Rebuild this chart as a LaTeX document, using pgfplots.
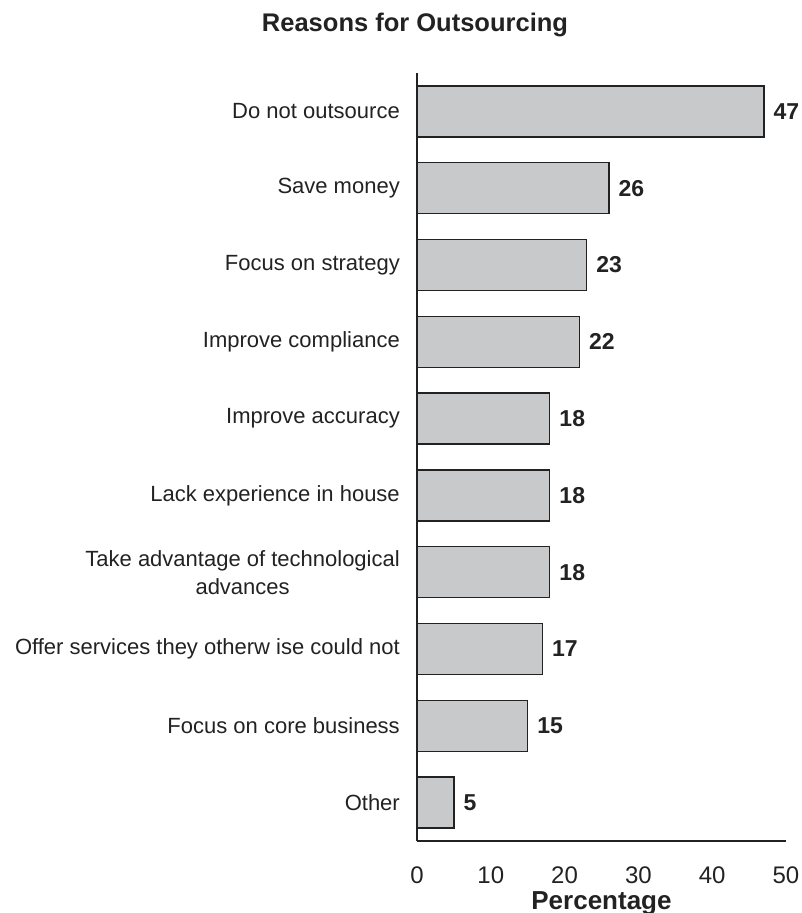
\documentclass[border=0pt]{standalone}
\usepackage{fontspec}
\setmainfont{Liberation Sans}
\usepackage{pgfplots}
\pgfplotsset{compat=1.18}
\definecolor{barfill}{RGB}{200,201,203}
\definecolor{edge}{RGB}{34,34,34}
\begin{document}
\begin{tikzpicture}
\path[use as bounding box] (-417pt,-72pt) rectangle (384pt,841pt);
\begin{axis}[
  at={(0pt,0pt)}, anchor=south west,
  scale only axis,
  width=369pt, height=768pt,
  xmin=0, xmax=50, ymin=-0.5, ymax=9.5,
  y dir=reverse,
  xbar, bar width=51pt,
  axis lines=left,
  axis line style={-, edge, line width=1.3pt},
  major tick length=0pt,
  xtick={0,10,20,30,40,50},
  ytick={0,1,2,3,4,5,6,7,8,9},
  yticklabels={Do not outsource, Save money, Focus on strategy, Improve compliance, Improve accuracy, Lack experience in house, {Take advantage of technological\\advances}, Offer services they otherw ise could not, Focus on core business, Other},
  /pgf/number format/assume math mode=true,
  xticklabel style={font=\fontsize{24}{28}\selectfont, anchor=center, yshift=-34pt, text=edge},
  yticklabel style={font=\fontsize{22}{28}\selectfont, align=center, anchor=east, inner sep=0pt, xshift=-17pt, text=edge},
  xlabel={Percentage},
  xlabel style={font=\fontsize{26}{30}\selectfont\bfseries, at={(axis description cs:0.5,0)}, anchor=center, inner sep=0pt, yshift=-62pt, text=edge},
  nodes near coords,
  every node near coord/.append style={font=\fontsize{23}{26}\selectfont\bfseries, anchor=west, inner sep=0pt, xshift=9pt, text=edge},
  clip=false,
]
\addplot[fill=barfill, draw=edge, line width=1.3pt] coordinates {
(47,0) (26,1) (23,2) (22,3) (18,4) (18,5) (18,6) (17,7) (15,8) (5,9)
};
\end{axis}
\node[font=\fontsize{25.5}{30}\selectfont\bfseries, text=edge] at (-2pt,816pt) {Reasons for Outsourcing};
\end{tikzpicture}
\end{document}
